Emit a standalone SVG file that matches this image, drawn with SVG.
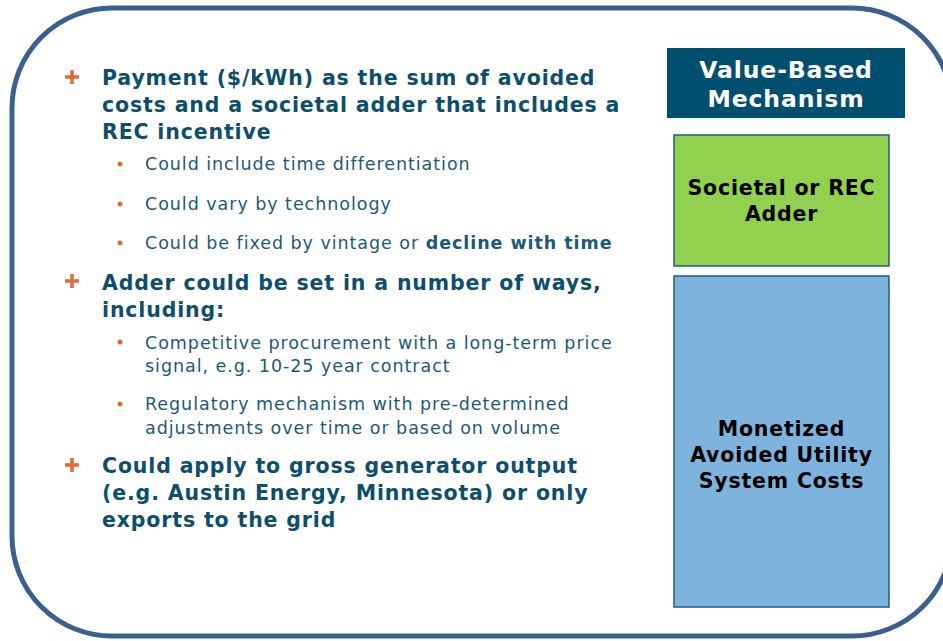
<svg xmlns="http://www.w3.org/2000/svg" width="943" height="641" viewBox="0 0 943 641">
<style>
.h{font-family:"DejaVu Sans",Verdana,sans-serif;font-weight:bold;font-size:20.5px;letter-spacing:0.85px;fill:#0d4f6b}
.s{font-family:"DejaVu Sans",Verdana,sans-serif;font-size:17.5px;letter-spacing:0.95px;fill:#1a5a78}
.b{font-family:"DejaVu Sans",Verdana,sans-serif;font-weight:bold;font-size:20.5px;letter-spacing:0.8px;fill:#000;text-anchor:middle}
.t{font-family:"DejaVu Sans",Verdana,sans-serif;font-weight:bold;font-size:23.5px;letter-spacing:0.9px;fill:#fff;text-anchor:middle}
.plus{stroke:#e06a3b;stroke-width:3.5}
.dot{fill:#e06a3b}
</style>
<rect width="943" height="641" fill="#fff"/>
<rect x="12" y="8" width="940" height="628" rx="100" ry="100" fill="none" stroke="#3b5f8e" stroke-width="5"/>
<g id="box-title">
<rect x="667" y="48" width="238" height="70" fill="#004f6e"/>
<text class="t" x="786" y="78">Value-Based</text>
<text class="t" x="786" y="107">Mechanism</text>
</g>
<g id="box-adder">
<rect x="674" y="135" width="215" height="131" fill="#92d050" stroke="#1f5f7f" stroke-width="1.5"/>
<text class="b" x="781.5" y="195">Societal or REC</text>
<text class="b" x="781.5" y="221">Adder</text>
</g>
<g id="box-costs">
<rect x="674" y="276" width="215" height="331" fill="#7eb3de" stroke="#1f5f7f" stroke-width="1.5"/>
<text class="b" x="781.5" y="436">Monetized</text>
<text class="b" x="781.5" y="462">Avoided Utility</text>
<text class="b" x="781.5" y="488">System Costs</text>
</g>
<g id="text">
<path class="plus" d="M65 77h14M72 70v14M65 281h14M72 274v14M65 465h14M72 458v14"/>
<text class="h" x="102" y="85">Payment ($/kWh) as the sum of avoided</text>
<text class="h" x="102" y="112">costs and a societal adder that includes a</text>
<text class="h" x="102" y="139">REC incentive</text>
<circle class="dot" cx="120" cy="164" r="2.5"/>
<text class="s" x="145" y="170">Could include time differentiation</text>
<circle class="dot" cx="120" cy="204" r="2.5"/>
<text class="s" x="145" y="210">Could vary by technology</text>
<circle class="dot" cx="120" cy="243" r="2.5"/>
<text class="s" x="145" y="249">Could be fixed by vintage or <tspan font-weight="bold">decline with time</tspan></text>
<text class="h" x="102" y="290">Adder could be set in a number of ways,</text>
<text class="h" x="102" y="317">including:</text>
<circle class="dot" cx="120" cy="342" r="2.5"/>
<text class="s" x="145" y="349">Competitive procurement with a long-term price</text>
<text class="s" x="145" y="372">signal, e.g. 10-25 year contract</text>
<circle class="dot" cx="120" cy="404" r="2.5"/>
<text class="s" x="145" y="410">Regulatory mechanism with pre-determined</text>
<text class="s" x="145" y="434">adjustments over time or based on volume</text>
<text class="h" x="102" y="473">Could apply to gross generator output</text>
<text class="h" x="102" y="500">(e.g. Austin Energy, Minnesota) or only</text>
<text class="h" x="102" y="527">exports to the grid</text>
</g>
</svg>
